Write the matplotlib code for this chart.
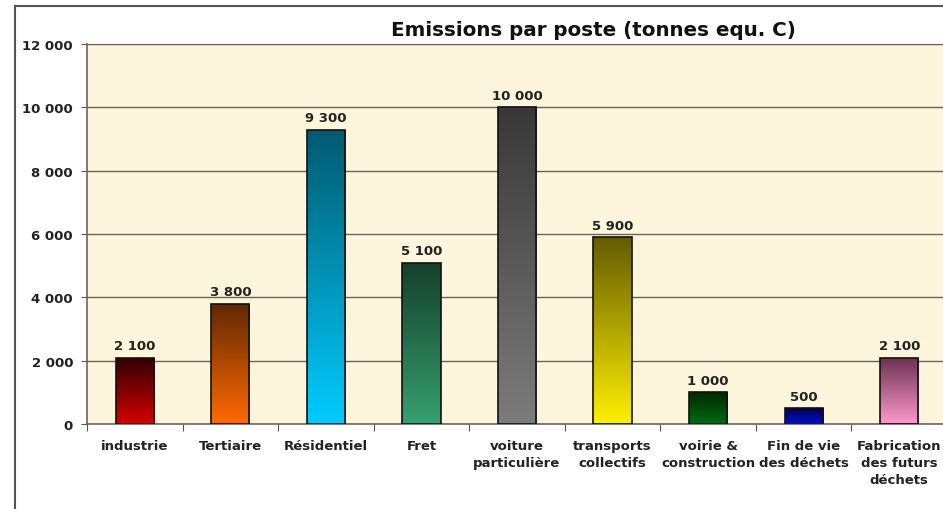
import numpy as np
import matplotlib.pyplot as plt
from matplotlib.colors import LinearSegmentedColormap
from matplotlib.lines import Line2D

# Emissions per sector (tonnes equ. C)
categories = ['industrie', 'Tertiaire', 'Résidentiel', 'Fret',
              'voiture\nparticulière', 'transports\ncollectifs',
              'voirie &\nconstruction', 'Fin de vie\ndes déchets',
              'Fabrication\ndes futurs\ndéchets']
values = [2100, 3800, 9300, 5100, 10000, 5900, 1000, 500, 2100]
yticks = [0, 2000, 4000, 6000, 8000, 10000, 12000]

# (top colour, bottom colour) for each bar's vertical gradient
gradients = [('#300000', '#d60000'),
             ('#602800', '#ff6a00'),
             ('#005a70', '#00ccff'),
             ('#14402a', '#35a070'),
             ('#383838', '#7c7c7c'),
             ('#645c00', '#fff000'),
             ('#002a00', '#006a10'),
             ('#00004a', '#0010d0'),
             ('#6a3050', '#ff99cc')]

plt.rcParams['font.family'] = 'DejaVu Sans'

fig = plt.figure(figsize=(9.43, 5.10), dpi=100)
ax = fig.add_axes([87 / 943, 1 - 425 / 510, 860 / 943, 380 / 510])
ax.set_facecolor('#fdf5dc')

x = np.arange(len(categories))
width = 0.4
bars = ax.bar(x, values, width, color='none', edgecolor='#111111',
              linewidth=1.2, zorder=3)

# fill each bar with a vertical gradient clipped to the bar outline
grad = np.linspace(0, 1, 256).reshape(-1, 1)
for bar, (top, bottom) in zip(bars, gradients):
    cmap = LinearSegmentedColormap.from_list('g', [bottom, top])
    x0 = bar.get_x()
    h = bar.get_height()
    im = ax.imshow(grad, cmap=cmap, origin='lower', aspect='auto',
                   extent=(x0, x0 + width, 0, h), zorder=2)
    im.set_clip_path(bar)

for xi, v in zip(x, values):
    ax.text(xi, v + 170, f'{v:,}'.replace(',', ' '), ha='center', va='bottom',
            fontsize=9.5, fontweight='bold', color='#222222', zorder=4)

ax.set_xlim(-0.5, len(categories) - 0.5)
ax.set_ylim(0, 12000)

ax.set_yticks(yticks)
ax.set_yticklabels([f'{t:,}'.replace(',', ' ') for t in yticks],
                   fontsize=9.5, fontweight='bold', color='#222222')
ax.yaxis.grid(True, color='#6a6356', linewidth=1.0, zorder=1)
ax.set_axisbelow(True)

# category ticks sit on the boundaries, labels in the middle
ax.set_xticks(np.arange(len(categories) + 1) - 0.5)
ax.set_xticklabels([])
ax.set_xticks(x, minor=True)
ax.set_xticklabels(categories, minor=True, fontsize=9.5, fontweight='bold',
                   color='#222222', linespacing=1.4, va='top')
ax.tick_params(axis='x', which='minor', length=0, pad=11)
ax.tick_params(axis='x', which='major', length=5, color='#555555')
ax.tick_params(axis='y', length=4, color='#555555', pad=6)

for side in ['left', 'bottom']:
    ax.spines[side].set_color('#666666')
    ax.spines[side].set_linewidth(1.2)
ax.spines['right'].set_visible(False)
ax.spines['top'].set_color('#6a6356')

fig.text(593 / 943, 1 - 30 / 510, 'Emissions par poste (tonnes equ. C)',
         ha='center', va='center', fontsize=14.3, fontweight='bold',
         color='#111111')

# outer chart frame
fx, fy = 15 / 943, 1 - 7 / 510
fig.add_artist(Line2D([fx, fx], [0, fy], color='#555555', linewidth=1.5))
fig.add_artist(Line2D([fx, 1], [fy, fy], color='#555555', linewidth=1.5))

fig.savefig('out.png', dpi=100)
